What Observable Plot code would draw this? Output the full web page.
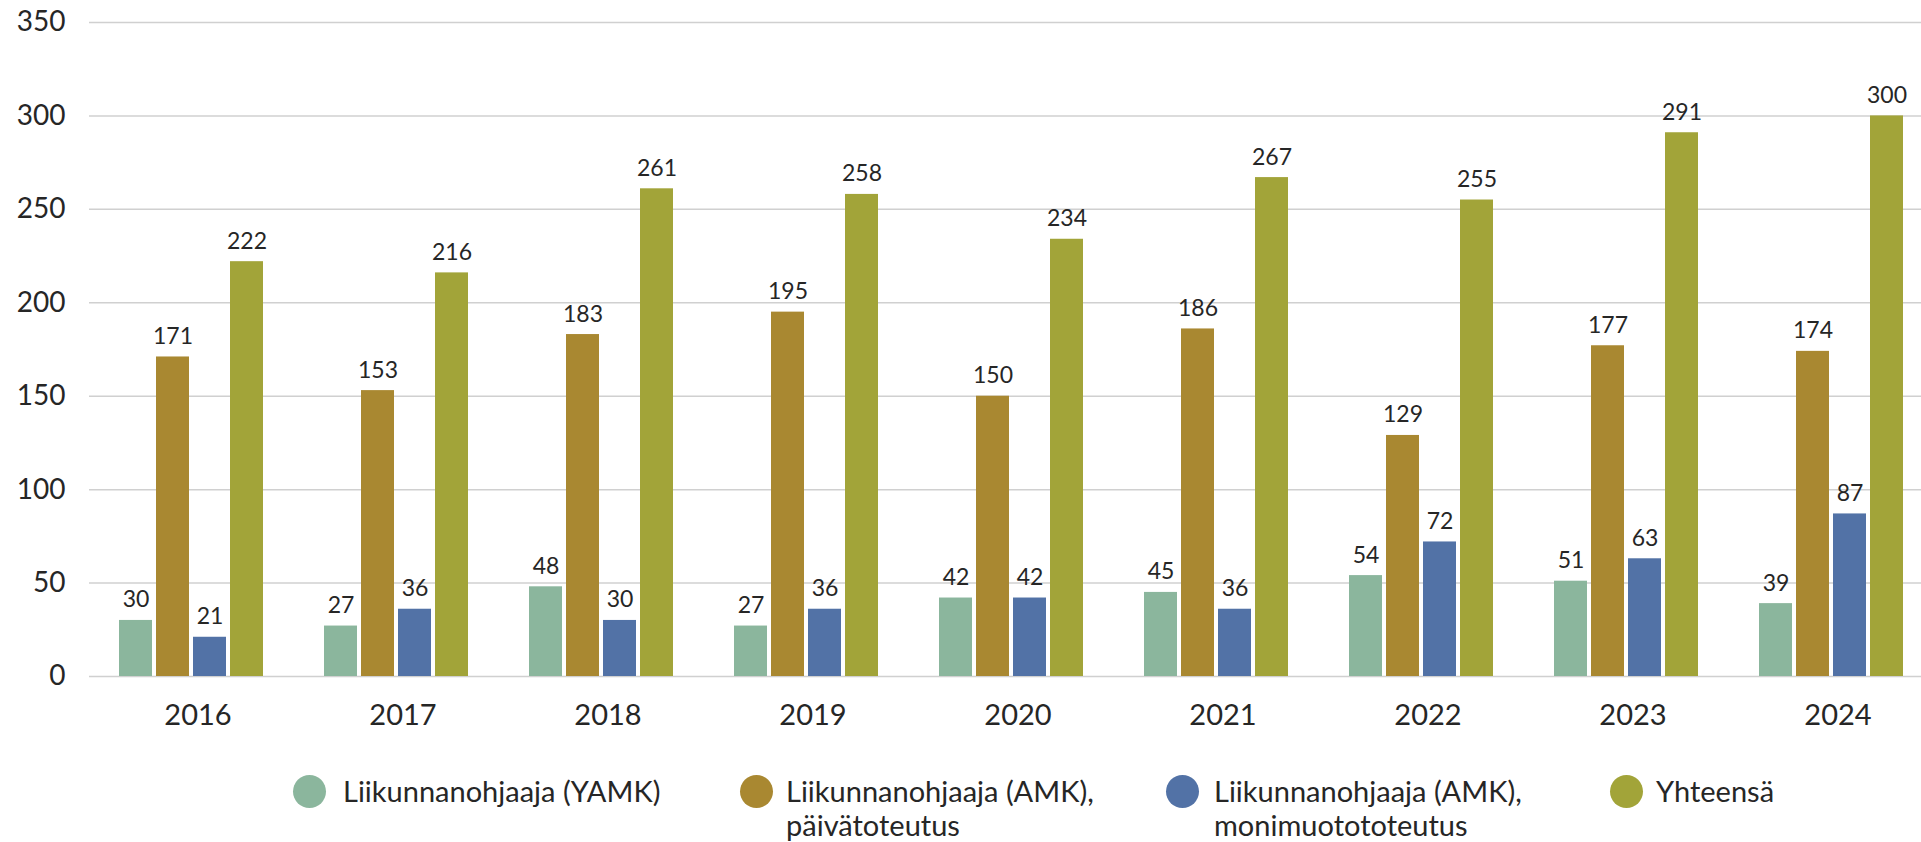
<!DOCTYPE html>
<html>
<head>
<meta charset="utf-8">
<script src="https://cdn.jsdelivr.net/npm/d3@7"></script>
<script src="https://cdn.jsdelivr.net/npm/@observablehq/plot@0.6"></script>
<style>
  html, body { margin: 0; padding: 0; background: #fff; }
  #wrap { position: relative; width: 1921px; height: 842px; font-family: Lato, "Open Sans", sans-serif; color: #262626; }
  #chart { position: absolute; left: 0; top: 0; }
  .li { position: absolute; font-size: 29px; line-height: 34px; white-space: nowrap; }
  .dot { position: absolute; width: 33px; height: 33px; border-radius: 50%; }
</style>
</head>
<body>
<div id="wrap">
  <div id="chart"></div>
  <div id="legend"></div>
</div>
<script>
const years = ["2016", "2017", "2018", "2019", "2020", "2021", "2022", "2023", "2024"];
const seriesNames = [
  "Liikunnanohjaaja (YAMK)",
  "Liikunnanohjaaja (AMK), päivätoteutus",
  "Liikunnanohjaaja (AMK), monimuotototeutus",
  "Yhteensä"
];
const legendLines = [
  ["Liikunnanohjaaja (YAMK)"],
  ["Liikunnanohjaaja (AMK),", "päivätoteutus"],
  ["Liikunnanohjaaja (AMK),", "monimuotototeutus"],
  ["Yhteensä"]
];
const yamk = [30, 27, 48, 27, 42, 45, 54, 51, 39];
const amkPaiva = [171, 153, 183, 195, 150, 186, 129, 177, 174];
const amkMonimuoto = [21, 36, 30, 36, 42, 36, 72, 63, 87];
const yhteensa = [222, 216, 261, 258, 234, 267, 255, 291, 300];
const colors = ["#8BB69D", "#A98831", "#5272A6", "#A2A439"];
const yTicks = [0, 50, 100, 150, 200, 250, 300, 350];

const seriesValues = [yamk, amkPaiva, amkMonimuoto, yhteensa];
const data = [];
years.forEach((yr, i) => {
  seriesNames.forEach((s, j) => {
    data.push({year: yr, series: s, value: seriesValues[j][i]});
  });
});

const chart = Plot.plot({
  width: 1921,
  height: 760,
  marginTop: 22,
  marginBottom: 84,
  marginLeft: 87,
  marginRight: 0,
  style: {fontFamily: "Lato, 'Open Sans', sans-serif", color: "#262626", background: "#fff"},
  fx: {domain: years, range: [87.3, 1935.9], padding: 0, label: null},
  x: {domain: seriesNames, paddingInner: 0.1, paddingOuter: 0.78, axis: null},
  y: {domain: [0, 350], ticks: yTicks, label: null},
  color: {domain: seriesNames, range: colors},
  marks: [
    Plot.ruleY(yTicks, {stroke: "#d0d0d0", strokeWidth: 1.5}),
    Plot.barY(data, {fx: "year", x: "series", y: "value", fill: "series"}),
    Plot.text(data, {fx: "year", x: "series", y: "value", text: d => String(d.value),
      lineAnchor: "bottom", dy: -13, fontSize: 23, fill: "#262626"}),
    Plot.axisY({anchor: "left", ticks: yTicks, tickSize: 0, tickPadding: 24, fontSize: 28, fill: "#262626", label: null}),
    Plot.axisFx({anchor: "bottom", tickSize: 0, tickPadding: 28, fontSize: 29, dx: 6, fill: "#262626", label: null})
  ]
});
document.getElementById("chart").appendChild(chart);

// Legend (HTML, below the plot area)
const legendDots = [293, 740, 1166, 1610];
const legendText = [343, 786, 1214, 1656];
const legend = document.getElementById("legend");
legendLines.forEach((lines, i) => {
  const dot = document.createElement("div");
  dot.className = "dot";
  dot.style.left = legendDots[i] + "px";
  dot.style.top = "775px";
  dot.style.background = colors[i];
  legend.appendChild(dot);
  const t = document.createElement("div");
  t.className = "li";
  t.style.left = legendText[i] + "px";
  t.style.top = "774px";
  t.innerHTML = lines.join("<br>");
  legend.appendChild(t);
});
</script>
</body>
</html>
